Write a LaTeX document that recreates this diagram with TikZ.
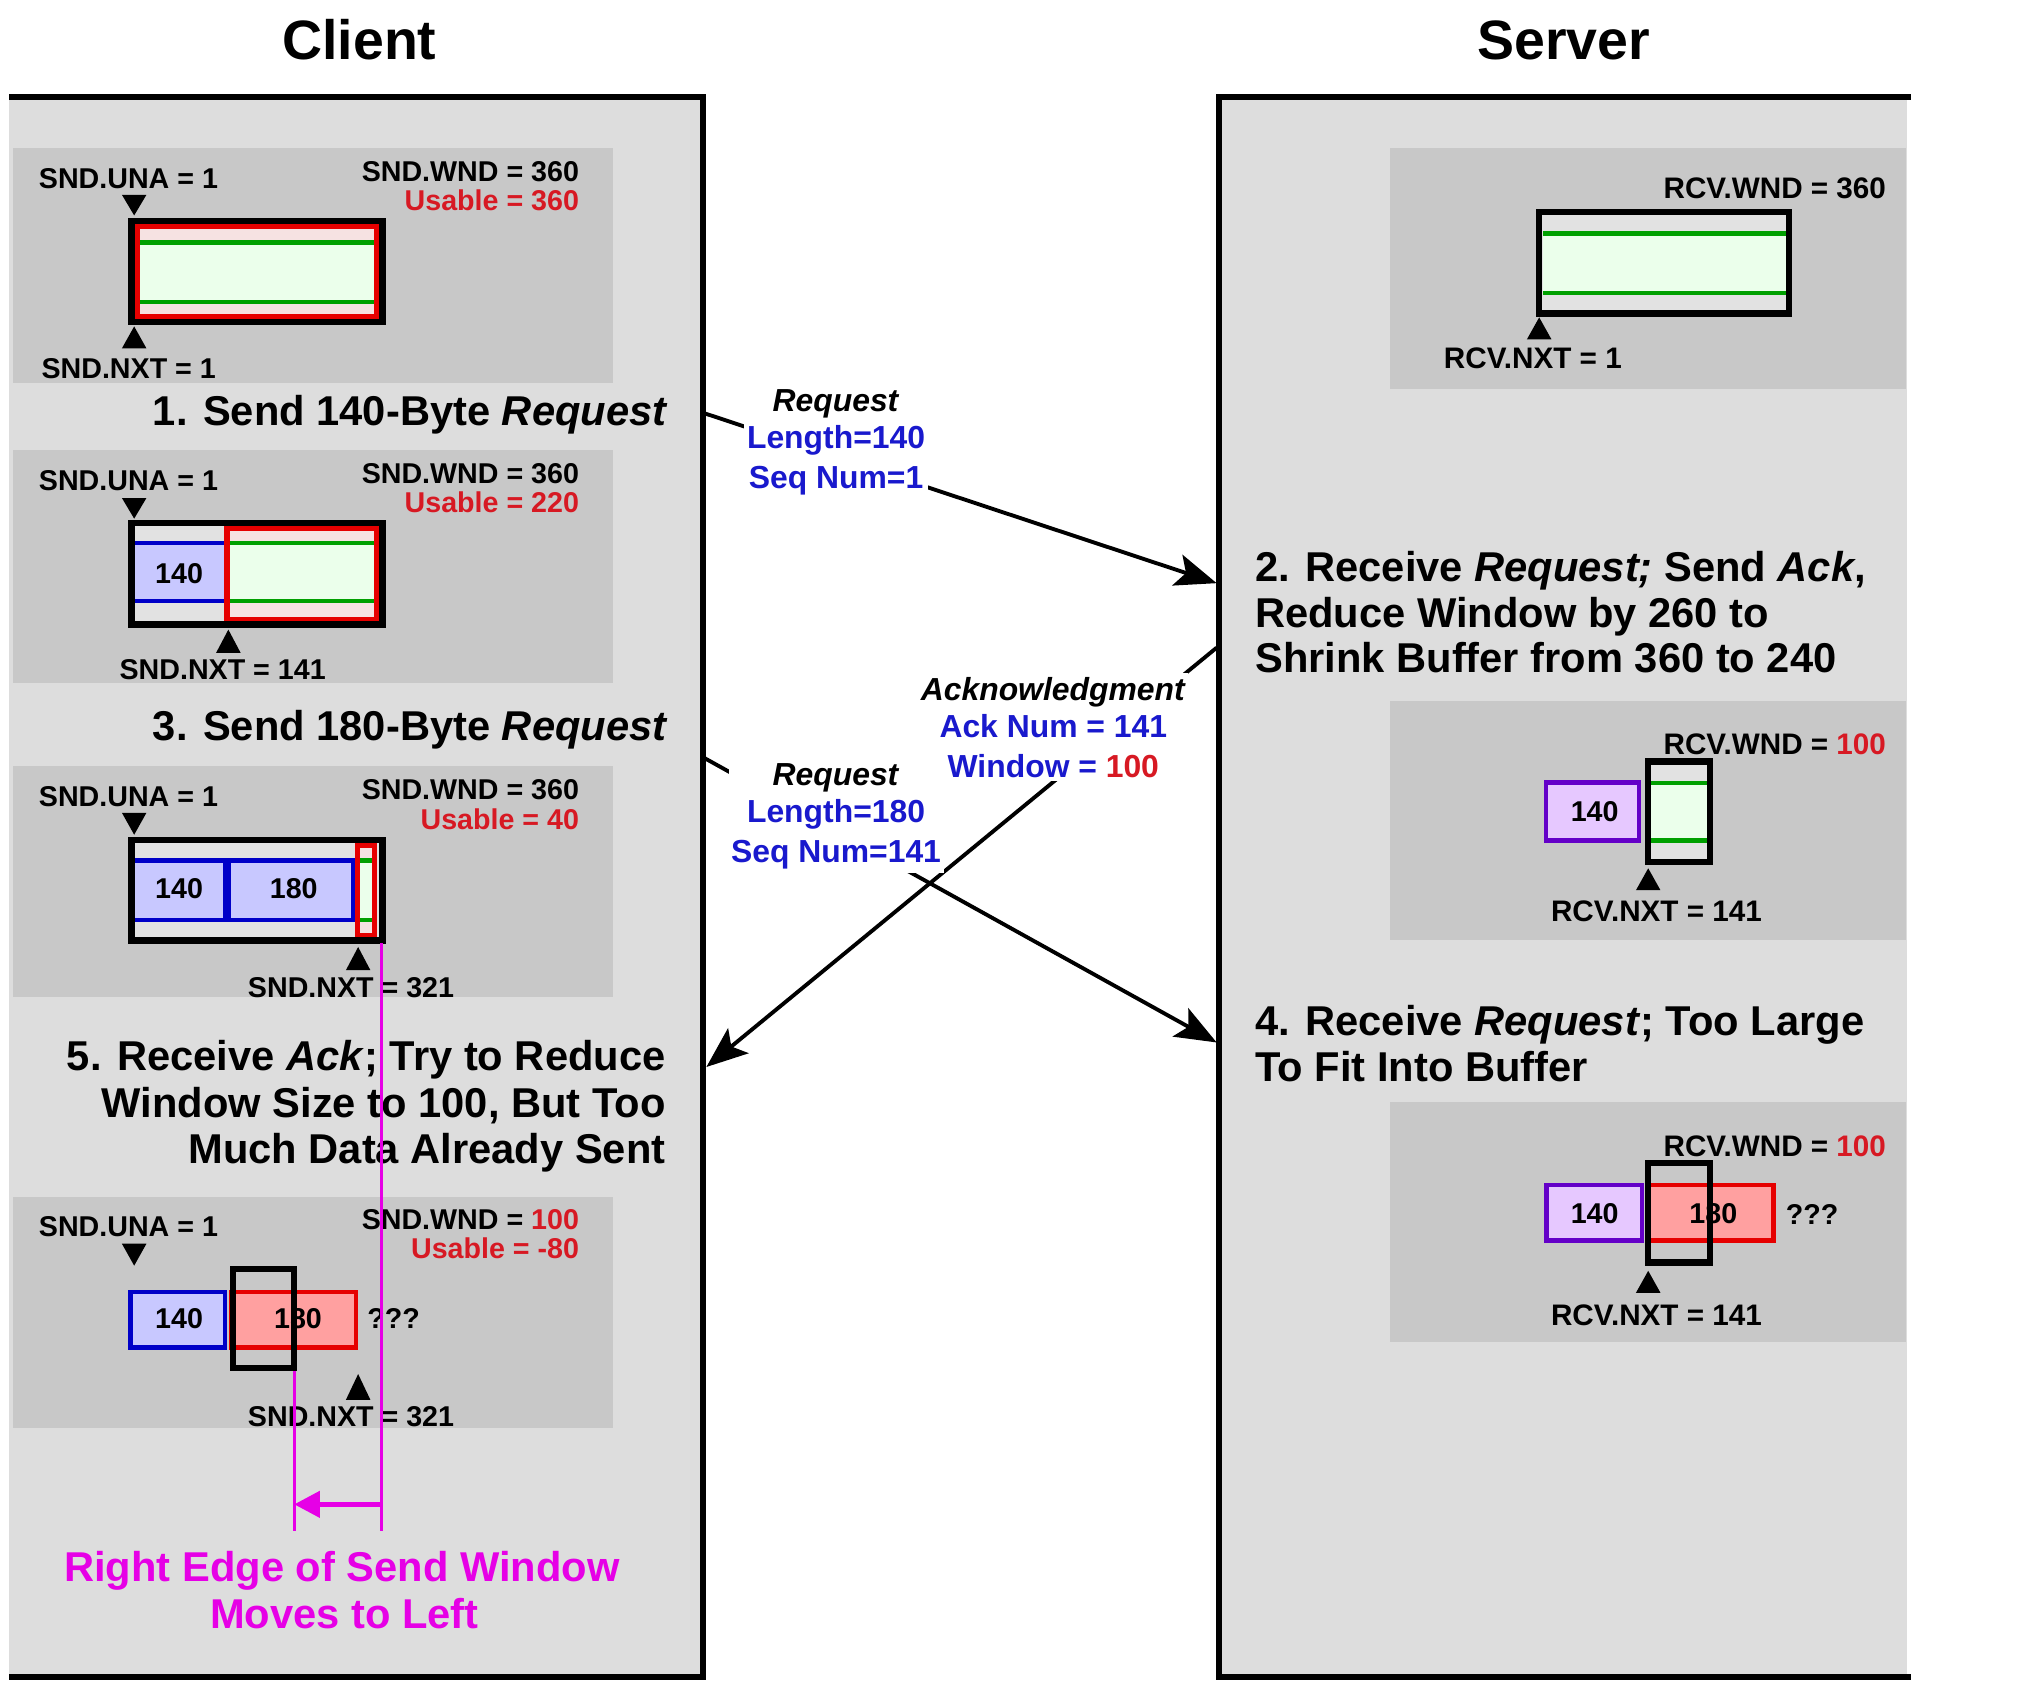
\documentclass[tikz,border=0pt]{standalone}
\usepackage{fontspec}
\setmainfont{Liberation Sans}
\usetikzlibrary{arrows.meta}
\definecolor{panelgray}{RGB}{221,221,221}
\definecolor{boxgray}{RGB}{200,200,200}
\definecolor{frameinner}{RGB}{226,226,226}
\definecolor{redinner}{RGB}{246,226,226}
\definecolor{wblue}{RGB}{0,0,200}
\definecolor{wbluefill}{RGB}{200,200,255}
\definecolor{wpurple}{RGB}{100,0,200}
\definecolor{wpurplefill}{RGB}{230,200,255}
\definecolor{wred}{RGB}{230,0,0}
\definecolor{wredfill}{RGB}{255,160,160}
\definecolor{wgreen}{RGB}{0,160,0}
\definecolor{wgreenfill}{RGB}{235,255,235}
\definecolor{txtred}{RGB}{215,25,35}
\definecolor{txtblue}{RGB}{25,25,205}
\definecolor{magline}{RGB}{230,0,230}
\begin{document}
\begin{tikzpicture}[x=1pt,y=-1pt,
  lbl/.style={font=\fontsize{22.2}{26}\selectfont\bfseries, inner sep=0pt},
  slbl/.style={font=\fontsize{23}{27}\selectfont\bfseries, inner sep=0pt},
  stephead/.style={font=\fontsize{32.3}{36}\selectfont\bfseries, inner sep=0pt},
  ttl/.style={font=\fontsize{43}{48}\selectfont\bfseries, inner sep=0pt, anchor=base},
  msg/.style={font=\fontsize{24.7}{30}\selectfont\bfseries, fill=white, inner xsep=2pt, inner ysep=3pt, align=center, anchor=north},
  msgline/.style={line width=3pt, -{Stealth[length=32pt,width=25pt,inset=7pt]}},
  bufframe/.style={line width=5pt, draw=black},
  bluebox/.style={draw=wblue, fill=wbluefill, line width=3.5pt},
  purplebox/.style={draw=wpurple, fill=wpurplefill, line width=3.5pt},
  redbox/.style={draw=wred, fill=wredfill, line width=3.5pt},
  redwin/.style={draw=wred, line width=4pt},
  greenline/.style={draw=wgreen, line width=3.5pt},
  magstroke/.style={draw=magline, line width=2.5pt},
  magtext/.style={font=\fontsize{32.3}{36}\selectfont\bfseries, text=magline, inner sep=0pt, anchor=base}
]
\fill[white] (0,0) rectangle (1568,1313);
\useasboundingbox (0,0) rectangle (1568,1313);

% ---------- panels ----------
\fill[panelgray] (7,75) rectangle (545,1300);
\fill[panelgray] (945,75) rectangle (1478,1300);
\draw[line width=5pt] (7,75) -- (545,75) -- (545,1300) -- (7,1300);
\draw[line width=5pt] (1481,75) -- (945,75) -- (945,1300) -- (1481,1300);

\node[ttl] (client) at (278.5,46) {Client};
\node[ttl] (server) at (1212,46) {Server};

% ---------- client box A ----------
\fill[boxgray] (10,115) rectangle (475,297);
\fill[frameinner] (102,171.5) rectangle (296.5,249.5);
\fill[redinner] (106.5,175.5) rectangle (292,245.5);
\fill[wgreenfill] (106,188) rectangle (292,234);
\draw[greenline] (106,188) -- (292,188) (106,234) -- (292,234);
\draw[redwin] (106.5,175.5) rectangle (292,245.5);
\draw[bufframe] (102,171.5) rectangle (296.5,249.5);
\fill (94.5,151) -- (113.5,151) -- (104,167) -- cycle;
\fill (104,253) -- (113.5,270) -- (94.5,270) -- cycle;
\node[lbl, anchor=base west] (aUna) at (30,146) {SND.UNA = 1};
\node[lbl, anchor=base east] (aWnd) at (449,141) {SND.WND = 360};
\node[lbl, anchor=base east, text=txtred] (aUse) at (449,163) {Usable = 360};
\node[lbl, anchor=base west] (aNxt) at (32,293) {SND.NXT = 1};
\node[stephead, anchor=base east] (step1) at (517.8,330) {1. Send 140-Byte \textit{Request}};

% ---------- client box B ----------
\fill[boxgray] (10,348.5) rectangle (475,529);
\fill[frameinner] (102,405.5) rectangle (296.5,484);
\draw[bluebox] (103,421) rectangle (176,466);
\fill[redinner] (176,409.5) rectangle (292,480);
\fill[wgreenfill] (177,421) rectangle (291,466);
\draw[greenline] (177,421) -- (291,421) (177,466) -- (291,466);
\draw[redwin] (176,409.5) rectangle (292,480);
\draw[bufframe] (102,405.5) rectangle (296.5,484);
\node[lbl] (b140) at (138.8,445) {140};
\fill (94.5,386) -- (113.5,386) -- (104,402) -- cycle;
\fill (177,488) -- (186.5,506) -- (167.5,506) -- cycle;
\node[lbl, anchor=base west] (bUna) at (30,380) {SND.UNA = 1};
\node[lbl, anchor=base east] (bWnd) at (449,375) {SND.WND = 360};
\node[lbl, anchor=base east, text=txtred] (bUse) at (449,397.6) {Usable = 220};
\node[lbl, anchor=base west] (bNxt) at (92.5,526.8) {SND.NXT = 141};
\node[stephead, anchor=base east] (step3) at (517.8,574.3) {3. Send 180-Byte \textit{Request}};

% ---------- client box C ----------
\fill[boxgray] (10,593.5) rectangle (475,773);
\fill[frameinner] (102,651) rectangle (296.5,729);
\draw[bluebox] (103,667) rectangle (174.5,713);
\draw[bluebox] (177.5,667) rectangle (274,713);
\fill[redinner] (277.3,655) rectangle (290.5,725);
\fill[wgreenfill] (278,667) rectangle (289.5,713);
\draw[greenline] (278,667) -- (289.5,667) (278,713) -- (289.5,713);
\draw[redwin] (277.3,655) rectangle (290.5,725);
\draw[bufframe] (102,651) rectangle (296.5,729);
\node[lbl] (c140) at (138.8,689) {140};
\node[lbl] (c180) at (227.7,689) {180};
\fill (94.5,630) -- (113.5,630) -- (104,647) -- cycle;
\fill (277.6,734) -- (287.1,752) -- (268.1,752) -- cycle;
\node[lbl, anchor=base west] (cUna) at (30,625) {SND.UNA = 1};
\node[lbl, anchor=base east] (cWnd) at (449,620) {SND.WND = 360};
\node[lbl, anchor=base east, text=txtred] (cUse) at (449,642.6) {Usable = 40};
\node[lbl, anchor=base west] (cNxt) at (192,773) {SND.NXT = 321};
\node[stephead, anchor=base east] (step5a) at (516,830) {5. Receive \textit{Ack}; Try to Reduce};
\node[stephead, anchor=base east] (step5b) at (516,866) {Window Size to 100, But Too};
\node[stephead, anchor=base east] (step5c) at (516,902) {Much Data Already Sent};

% ---------- client box D ----------
\fill[boxgray] (10,927.5) rectangle (475,1106.5);
\draw[bluebox] (101.2,1001.5) rectangle (174.5,1044.5);
\draw[redbox] (179.5,1001.5) rectangle (276,1044.5);
\node[lbl] (d140) at (138.8,1022) {140};
\node[lbl] (d180) at (231,1022) {180};
\node[lbl] (dqq) at (305,1022) {???};
\draw[bufframe] (180.5,983.5) rectangle (228,1060.5);
\fill (94.5,964) -- (113.5,964) -- (104,981) -- cycle;
\fill (277.6,1065) -- (287.1,1085) -- (268.1,1085) -- cycle;
\node[lbl, anchor=base west] (dUna) at (30,958.5) {SND.UNA = 1};
\node[lbl, anchor=base east] (dWnd) at (449,953) {SND.WND = \textcolor{txtred}{100}};
\node[lbl, anchor=base east, text=txtred] (dUse) at (449,975.7) {Usable = -80};
\node[lbl, anchor=base west] (dNxt) at (192,1106) {SND.NXT = 321};

% ---------- server box 1 ----------
\fill[boxgray] (1077.5,115) rectangle (1477,301.5);
\fill[frameinner] (1193,164.5) rectangle (1386.5,243);
\fill[wgreenfill] (1196,181) rectangle (1384,227);
\draw[greenline] (1196,181) -- (1384,181) (1196,227) -- (1384,227);
\draw[bufframe] (1193,164.5) rectangle (1386.5,243);
\fill (1193,246) -- (1202.5,263) -- (1183.5,263) -- cycle;
\node[slbl, anchor=base east] (s1Wnd) at (1462,153.5) {RCV.WND = 360};
\node[slbl, anchor=base west] (s1Nxt) at (1119,286) {RCV.NXT = 1};

\node[stephead, anchor=base west] (step2a) at (972.7,451) {2. Receive \textit{Request;} Send \textit{Ack},};
\node[stephead, anchor=base west] (step2b) at (972.7,486.7) {Reduce Window by 260 to};
\node[stephead, anchor=base west] (step2c) at (972.7,521.6) {Shrink Buffer from 360 to 240};

% ---------- server box 2 ----------
\fill[boxgray] (1077.5,543) rectangle (1477,728.5);
\draw[purplebox] (1198.2,606.5) rectangle (1270.5,651.5);
\node[lbl] (s2140) at (1236,629) {140};
\fill[frameinner] (1277.5,590.2) rectangle (1325.5,668.3);
\fill[wgreenfill] (1280,607) rectangle (1323,651.5);
\draw[greenline] (1280,607) -- (1323,607) (1280,651.5) -- (1323,651.5);
\draw[bufframe] (1277.5,590.2) rectangle (1325.5,668.3);
\fill (1277.5,673) -- (1287,690) -- (1268,690) -- cycle;
\node[slbl, anchor=base east] (s2Wnd) at (1462,584.5) {RCV.WND = \textcolor{txtred}{100}};
\node[slbl, anchor=base west] (s2Nxt) at (1202,714) {RCV.NXT = 141};

\node[stephead, anchor=base west] (step4a) at (972.7,802.5) {4. Receive \textit{Request}; Too Large};
\node[stephead, anchor=base west] (step4b) at (972.7,838.5) {To Fit Into Buffer};

% ---------- server box 3 ----------
\fill[boxgray] (1077.5,854) rectangle (1477,1040);
\draw[purplebox] (1198.5,918.5) rectangle (1272.5,961.5);
\draw[redbox] (1277.5,918.5) rectangle (1374.5,961.5);
\node[lbl] (s3140) at (1236,941) {140};
\node[lbl] (s3180) at (1328,941) {180};
\node[lbl] (s3qq) at (1404.5,941) {???};
\draw[bufframe] (1277.5,901.5) rectangle (1325.5,978.5);
\fill (1277.5,985) -- (1287,1002) -- (1268,1002) -- cycle;
\node[slbl, anchor=base east] (s3Wnd) at (1462,896.5) {RCV.WND = \textcolor{txtred}{100}};
\node[slbl, anchor=base west] (s3Nxt) at (1202,1027) {RCV.NXT = 141};

% ---------- messages ----------
\coordinate (r1s) at (545,320);
\coordinate (r1e) at (943,452);
\coordinate (aks) at (943,502);
\coordinate (ake) at (547.5,827);
\coordinate (r2s) at (545,587);
\coordinate (r2e) at (943,808);
\draw[msgline] (r1s) -- (r1e);
\draw[msgline] (aks) -- (ake);
\draw[msgline] (r2s) -- (r2e);
\node[msg] (m1) at (648,299.1) {\textit{Request}\\[-1.5pt]\textcolor{txtblue}{Length=140}\\[1pt]\textcolor{txtblue}{Seq Num=1}};
\node[msg] (m2) at (816.4,521.7) {\textit{Acknowledgment}\\[-1.5pt]\textcolor{txtblue}{Ack Num = 141}\\[1pt]\textcolor{txtblue}{Window = }\textcolor{txtred}{100}};
\node[msg] (m3) at (648,588.8) {\textit{Request}\\[-1.5pt]\textcolor{txtblue}{Length=180}\\[1pt]\textcolor{txtblue}{Seq Num=141}};

% ---------- window edge annotation ----------
\coordinate (oldTop) at (295.4,731);
\coordinate (oldBot) at (295.4,1187);
\coordinate (newTop) at (228,1063);
\coordinate (newBot) at (228,1187);
\coordinate (arrS) at (295.4,1166);
\coordinate (arrE) at (228,1166);
\draw[magstroke] (oldTop) -- (oldBot);
\draw[magstroke] (newTop) -- (newBot);
\draw[magstroke, line width=4pt, -{Triangle[length=20pt,width=20pt]}] (arrS) -- (arrE);
\node[magtext] (mag1) at (265,1226) {Right Edge of Send Window};
\node[magtext] (mag2) at (267,1262) {Moves to Left};
\end{tikzpicture}
\end{document}
